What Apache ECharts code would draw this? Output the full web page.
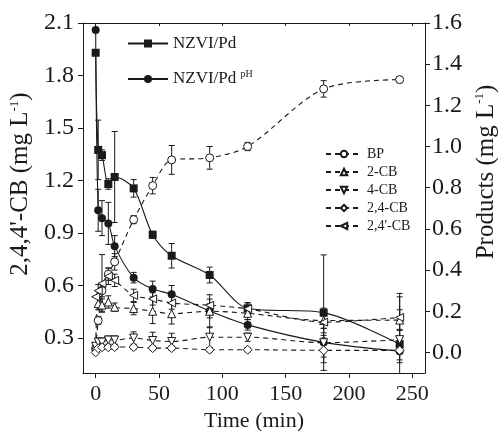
<!DOCTYPE html>
<html>
<head>
<meta charset="utf-8">
<script src="https://cdn.jsdelivr.net/npm/echarts@6/dist/echarts.min.js"></script>
<style>
  html, body { margin: 0; padding: 0; background: #fff; }
  #chart { width: 498px; height: 431px; }
</style>
</head>
<body>
<div id="chart"></div>
<script>
const times = [0, 2, 5, 10, 15, 30, 45, 60, 90, 120, 180, 240]
const xTicks = [0, 50, 100, 150, 200, 250]
const leftTicks = [0.3, 0.6, 0.9, 1.2, 1.5, 1.8, 2.1]
const rightTicks = [0, 0.2, 0.4, 0.6, 0.8, 1.0, 1.2, 1.4, 1.6]

// 2,4,4'-CB (left axis)
const nzviPd = [1.93, 1.375, 1.345, 1.18, 1.22, 1.155, 0.89, 0.77, 0.66, 0.47, 0.445, 0.265]
const nzviPdErr = [0, 0.17, 0.03, 0.03, 0.26, 0.05, 0.02, 0.07, 0.045, 0.03, 0.33, 0.29]
const nzviPdPH = [2.06, 1.03, 0.985, 0.955, 0.825, 0.645, 0.58, 0.55, 0.455, 0.375, 0.275, 0.225]
const nzviPdPHErr = [0, 0.12, 0.1, 0.12, 0.06, 0.03, 0.045, 0.05, 0.04, 0.03, 0.04, 0.05]

// products (right axis)
const bp = [0.02, 0.155, 0.3, 0.38, 0.44, 0.645, 0.81, 0.935, 0.945, 1.0, 1.28, 1.325]
const bpErr = [0, 0.02, 0.03, 0.03, 0.04, 0.02, 0.04, 0.07, 0.055, 0.02, 0.04, 0.015]
const cb2 = [0.03, 0.237, 0.23, 0.245, 0.22, 0.213, 0.2, 0.188, 0.2, 0.19, 0.155, 0.157]
const cb2Err = [0, 0.03, 0.03, 0.03, 0.02, 0.03, 0.06, 0.05, 0.08, 0.03, 0.06, 0.05]
const cb4 = [0.03, 0.05, 0.05, 0.06, 0.06, 0.07, 0.058, 0.053, 0.074, 0.074, 0.047, 0.062]
const cb4Err = [0, 0.02, 0.02, 0.02, 0.02, 0.03, 0.04, 0.04, 0.05, 0.02, 0.07, 0.05]
const cb24 = [0.0, 0.02, 0.025, 0.025, 0.026, 0.026, 0.021, 0.021, 0.013, 0.013, 0.01, 0.01]
const cb24Err = [0, 0.01, 0.01, 0.01, 0.01, 0.01, 0.01, 0.01, 0.01, 0.01, 0.06, 0.06]
const cb244 = [0.27, 0.3, 0.335, 0.37, 0.35, 0.277, 0.26, 0.24, 0.229, 0.212, 0.147, 0.17]
const cb244Err = [0, 0.03, 0.14, 0.04, 0.03, 0.03, 0.03, 0.03, 0.03, 0.03, 0.03, 0.1]

const FONT = "'Liberation Serif', 'Times New Roman', serif"
const INK = '#1a1a1a'

const chart = echarts.init(document.getElementById('chart'))

const pairs = (vals) => times.map((t, i) => [t, vals[i]])

const errBars = (vals, errs, yAxisIndex) => ({
  type: 'custom',
  yAxisIndex,
  silent: true,
  clip: true,
  z: 1,
  encode: { x: 0, y: [1, 2] },
  data: times
    .map((t, i) => [t, vals[i] - errs[i], vals[i] + errs[i]])
    .filter((d, i) => errs[i] > 0),
  renderItem: (params, api) => {
    const lo = api.coord([api.value(0), api.value(1)])
    const hi = api.coord([api.value(0), api.value(2)])
    const w = 3
    const st = { stroke: INK, lineWidth: 1 }
    return {
      type: 'group',
      children: [
        { type: 'line', shape: { x1: hi[0], y1: hi[1], x2: lo[0], y2: lo[1] }, style: st },
        { type: 'line', shape: { x1: hi[0] - w, y1: hi[1], x2: hi[0] + w, y2: hi[1] }, style: st },
        { type: 'line', shape: { x1: lo[0] - w, y1: lo[1], x2: lo[0] + w, y2: lo[1] }, style: st }
      ]
    }
  }
})

const solid = (name, vals, symbol) => ({
  name,
  type: 'line',
  yAxisIndex: 0,
  data: pairs(vals),
  smooth: 0.3,
  symbol,
  symbolSize: 8,
  z: 2,
  lineStyle: { color: INK, width: 1.1 },
  itemStyle: { color: INK }
})

// hollow product markers sit on top, as in the original
const dashed = (name, vals, symbol, rotate) => ({
  name,
  type: 'line',
  yAxisIndex: 1,
  data: pairs(vals),
  smooth: 0.3,
  symbol,
  symbolRotate: rotate,
  symbolSize: symbol === 'diamond' ? 9 : 8,
  showAllSymbol: true,
  z: 3,
  lineStyle: { color: INK, width: 1.1, type: [5, 4] },
  itemStyle: { color: '#fff', borderColor: INK, borderWidth: 1 }
})

const axisBase = {
  axisLine: { show: true, onZero: false, lineStyle: { color: INK, width: 1 } },
  axisTick: { show: true, inside: false, length: 5, lineStyle: { color: INK } },
  axisLabel: { color: INK, fontFamily: FONT, fontSize: 22 },
  splitLine: { show: false },
  nameTextStyle: { color: INK, fontFamily: FONT, fontSize: 22 }
}

const nameRich = {
  a: { fontFamily: FONT, fontSize: 25, color: INK },
  s: { fontFamily: FONT, fontSize: 13, color: INK, padding: [0, 0, 13, 0] }
}

chart.setOption({
  animation: false,
  backgroundColor: '#fff',
  textStyle: { fontFamily: FONT, color: INK },
  grid: { left: 83, right: 73, top: 23, bottom: 58, outerBoundsMode: 'none' },
  legend: [
    {
      data: ['NZVI/Pd', 'NZVI/PdpH'],
      orient: 'vertical',
      left: 127,
      top: 35,
      padding: 0,
      itemWidth: 40,
      itemHeight: 10,
      itemGap: 17,
      selectedMode: false,
      textStyle: {
        color: INK,
        fontFamily: FONT,
        fontSize: 17,
        rich: {
          a: { fontFamily: FONT, fontSize: 17, color: INK },
          s: { fontFamily: FONT, fontSize: 10, color: INK, padding: [0, 0, 10, 0] }
        }
      },
      formatter: (n) => (n === 'NZVI/PdpH' ? '{a|NZVI/Pd }{s|pH}' : '{a|NZVI/Pd}')
    },
    {
      data: ['BP', '2-CB', '4-CB', '2,4-CB', "2,4'-CB"],
      orient: 'vertical',
      left: 325,
      top: 147,
      padding: 0,
      itemWidth: 36,
      itemHeight: 8,
      itemGap: 4,
      selectedMode: false,
      textStyle: { color: INK, fontFamily: FONT, fontSize: 14 }
    }
  ],
  xAxis: [
    {
      ...axisBase,
      type: 'value',
      min: -10,
      max: 260,
      position: 'bottom',
      axisTick: { ...axisBase.axisTick, customValues: xTicks },
      axisLabel: { ...axisBase.axisLabel, customValues: xTicks, margin: 10 },
      name: 'Time (min)',
      nameLocation: 'middle',
      nameGap: 36
    },
    {
      type: 'value',
      min: -10,
      max: 260,
      position: 'top',
      axisLine: { show: true, onZero: false, lineStyle: { color: INK, width: 1 } },
      axisTick: { show: true, inside: true, length: 3, lineStyle: { color: INK }, customValues: xTicks },
      axisLabel: { show: false },
      splitLine: { show: false }
    }
  ],
  yAxis: [
    {
      ...axisBase,
      type: 'value',
      min: 0.1,
      max: 2.1,
      position: 'left',
      axisTick: { ...axisBase.axisTick, customValues: leftTicks },
      axisLabel: { ...axisBase.axisLabel, fontSize: 24, customValues: leftTicks, formatter: (v) => v.toFixed(1), margin: 9 },
      name: "{a|2,4,4'-CB (mg L}{s|-1}{a|)}",
      nameLocation: 'middle',
      nameRotate: 90,
      nameGap: 47,
      nameTextStyle: { ...axisBase.nameTextStyle, padding: [0, 0, 0, 28], rich: nameRich }
    },
    {
      ...axisBase,
      type: 'value',
      min: -0.1,
      max: 1.6,
      position: 'right',
      axisTick: { ...axisBase.axisTick, customValues: rightTicks },
      axisLabel: { ...axisBase.axisLabel, fontSize: 24, customValues: rightTicks, formatter: (v) => v.toFixed(1), margin: 7 },
      name: '{a|Products (mg L}{s|-1}{a|)}',
      nameLocation: 'middle',
      nameRotate: 90,
      nameGap: 48,
      nameTextStyle: { ...axisBase.nameTextStyle, padding: [0, 0, 0, 52], rich: nameRich }
    }
  ],
  series: [
    errBars(nzviPd, nzviPdErr, 0),
    errBars(nzviPdPH, nzviPdPHErr, 0),
    errBars(bp, bpErr, 1),
    errBars(cb2, cb2Err, 1),
    errBars(cb4, cb4Err, 1),
    errBars(cb24, cb24Err, 1),
    errBars(cb244, cb244Err, 1),
    solid('NZVI/Pd', nzviPd, 'rect'),
    solid('NZVI/PdpH', nzviPdPH, 'circle'),
    dashed('BP', bp, 'circle', 0),
    dashed('2-CB', cb2, 'triangle', 0),
    dashed('4-CB', cb4, 'triangle', 180),
    dashed('2,4-CB', cb24, 'diamond', 0),
    dashed("2,4'-CB", cb244, 'triangle', 90)
  ]
})
</script>
</body>
</html>
